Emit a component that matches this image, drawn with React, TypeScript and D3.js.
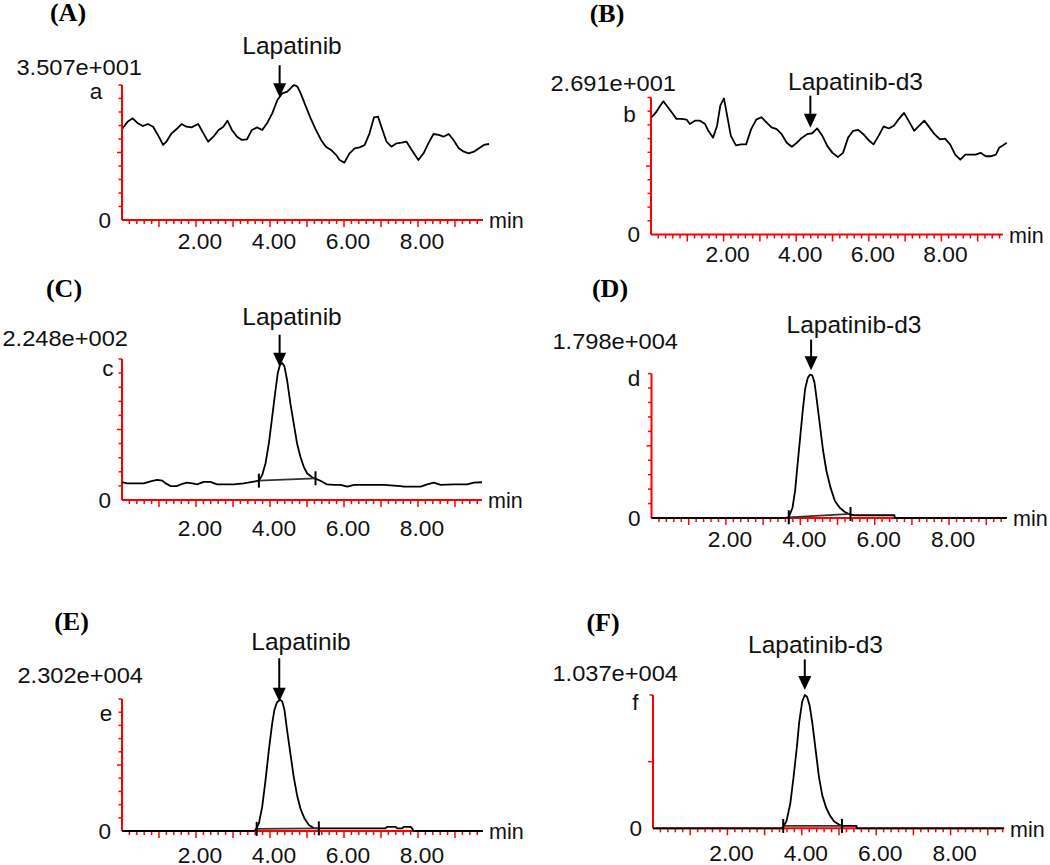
import React from "react";
import * as d3 from "d3";

// ---------- data (time in min, relative intensity in % of the panel maximum) ----------
const timeA = [0.02,0.15,0.29,0.43,0.56,0.70,0.84,0.97,1.11,1.20,1.34,1.47,1.61,1.74,1.88,2.06,2.20,2.33,2.47,2.61,2.74,2.85,2.97,3.11,3.24,3.38,3.51,3.65,3.79,3.92,4.06,4.20,4.33,4.47,4.58,4.65,4.74,4.83,4.97,5.10,5.24,5.38,5.51,5.65,5.79,5.88,6.01,6.15,6.29,6.42,6.56,6.69,6.81,6.92,7.01,7.15,7.28,7.42,7.56,7.69,7.83,8.01,8.15,8.28,8.42,8.56,8.69,8.83,8.96,9.10,9.24,9.37,9.51,9.65,9.78,9.92];
const intA = [67.9,72.8,75.3,71.6,69.6,71.1,69.1,63.0,55.6,58.0,64.2,67.2,71.1,69.1,68.6,71.1,64.2,58.0,61.7,66.7,69.1,73.6,66.7,61.7,59.3,59.8,66.7,68.6,66.7,71.6,79.0,88.9,93.8,95.1,98.3,100,98.8,93.8,84.0,75.3,66.7,59.3,54.3,51.9,48.1,44.4,42.5,49.4,53.1,53.8,55.6,64.2,76.0,76.5,69.1,58.0,54.3,56.8,57.3,58.0,51.9,44.4,49.4,56.8,63.7,63.0,61.7,63.7,59.3,53.1,50.6,49.4,50.6,53.1,55.6,56.3];

const timeB = [0.02,0.14,0.23,0.34,0.46,0.60,0.70,0.84,0.98,1.07,1.21,1.35,1.49,1.58,1.71,1.82,1.91,2.01,2.08,2.20,2.34,2.48,2.62,2.76,2.90,3.04,3.18,3.32,3.46,3.60,3.74,3.88,4.02,4.16,4.30,4.44,4.58,4.72,4.86,5.00,5.15,5.29,5.43,5.57,5.71,5.85,5.99,6.13,6.27,6.41,6.55,6.69,6.83,6.97,7.11,7.25,7.39,7.53,7.67,7.81,7.96,8.10,8.24,8.38,8.52,8.66,8.80,8.94,9.08,9.22,9.36,9.50,9.59,9.69,9.80];
const intB = [85.6,89.3,93.1,97.3,93.1,88.1,84.4,84.4,83.9,80.6,83.1,83.1,80.6,75.7,70.7,79.4,94.3,99.3,89.3,72.0,65.0,65.8,65.8,76.9,83.9,85.6,81.9,78.2,76.9,73.2,67.0,64.0,67.0,70.7,73.2,73.9,77.4,72.0,64.5,59.6,56.6,59.6,70.7,75.7,76.4,73.2,69.0,65.8,72.0,78.9,77.4,79.4,84.4,88.8,82.4,75.7,79.4,83.1,78.2,73.2,69.5,70.0,65.8,58.3,54.6,58.3,58.3,58.3,59.6,57.1,57.1,58.3,63.3,65.0,67.0];

const timeC = [0.00,0.14,0.32,0.59,0.82,0.95,1.09,1.18,1.31,1.49,1.63,1.76,1.90,2.03,2.21,2.39,2.57,2.75,3.02,3.29,3.56,3.70,3.79,3.88,3.97,4.06,4.15,4.21,4.27,4.33,4.39,4.46,4.55,4.64,4.73,4.82,4.91,5.00,5.14,5.27,5.41,5.54,5.73,5.91,6.09,6.27,6.63,7.08,7.53,7.62,8.07,8.25,8.43,8.61,8.97,9.33,9.51,9.73];
const intC = [12.6,11.8,11.8,11.8,13.5,14.2,13.7,11.8,9.9,9.9,11.4,12.3,11.8,11.1,12.8,12.8,11.1,11.1,11.1,11.8,13.0,13.7,17.8,26.1,40.3,59.2,78.2,90.0,95.9,97.2,94.8,85.3,68.7,54.5,40.3,30.8,23.7,19.0,16.1,14.7,13.0,11.1,10.7,10.7,9.5,10.7,10.7,10.7,9.9,9.5,9.5,11.1,12.3,10.7,11.1,11.1,12.3,12.6];

const timeD = [0,3.60,3.69,3.79,3.86,3.92,3.99,4.06,4.13,4.20,4.26,4.32,4.38,4.44,4.52,4.61,4.70,4.81,4.93,5.06,5.20,5.34,5.48,6.53,6.54,9.55];
const intD = [0,0,0.5,7.1,18.8,35.3,54.1,72.9,89.4,96.9,99.3,98.8,94.1,82.4,65.9,47.1,32.9,21.2,11.8,7.1,4.2,2.4,1.9,1.9,0,0];

const timeE = [0,3.55,3.61,3.70,3.79,3.88,3.97,4.06,4.12,4.19,4.27,4.33,4.39,4.46,4.55,4.64,4.73,4.82,4.93,5.05,5.18,5.32,6.94,7.12,7.17,7.39,7.44,7.57,7.62,7.80,7.84,7.88,9.75];
const intE = [0,0,0.8,5.8,18.5,38.7,61.5,81.8,91.9,97.5,99.5,98.2,91.9,76.7,58.9,41.2,27.3,17.2,9.6,4.6,2.2,2.0,2.0,2.0,3.2,3.2,2.0,2.0,3.2,3.2,2.0,0,0];

const timeF = [0,3.45,3.50,3.59,3.69,3.78,3.87,3.93,4.01,4.08,4.14,4.21,4.28,4.37,4.46,4.55,4.65,4.76,4.87,5.01,5.10,5.47,5.48,9.44];
const intF = [0,0,1.0,5.6,18.4,38.8,61.7,79.6,94.9,100,98.7,92.3,79.6,59.2,38.8,24.7,15.8,9.4,5.1,2.6,1.8,1.8,0,0];

// integration baselines: [startTime, startPct, endTime, endPct]
const integC = [3.70, 13.7, 5.23, 15.4];
const integD = [3.69, 0.5, 5.35, 2.8];
const integE = [3.64, 1.6, 5.32, 2.0];
const integF = [3.50, 1.8, 5.08, 1.8];

const tickValues = [2, 4, 6, 8];
const tickLabels = ["2.00", "4.00", "6.00", "8.00"];
const panelTitles = ["(A)", "(B)", "(C)", "(D)", "(E)", "(F)"];
const maxLabels = ["3.507e+001", "2.691e+001", "2.248e+002", "1.798e+004", "2.302e+004", "1.037e+004"];
const traceLetters = ["a", "b", "c", "d", "e", "f"];
const compounds = ["Lapatinib", "Lapatinib-d3", "Lapatinib", "Lapatinib-d3", "Lapatinib", "Lapatinib-d3"];
const arrowTimes = [4.26, 4.39, 4.26, 4.29, 4.25, 4.08];
const arrowTipPct = [91, 78, 94.5, 102.4, 98, 103.8];

// ---------- layout ----------
type Cfg = {
  x0: number; ppm: number; x1: number; yTop: number; yZero: number;
  title: [number, number]; maxLab: [number, number]; letter: [number, number];
  compound: [number, number]; arrowLen: number; tickLabelY: number; fullYTicks: boolean;
};

const layouts: Cfg[] = [
  { x0: 122, ppm: 37, x1: 483, yTop: 85, yZero: 220, title: [68, 14], maxLab: [142, 67], letter: [96, 93], compound: [292, 47], arrowLen: 32, tickLabelY: 241, fullYTicks: true },
  { x0: 651, ppm: 36.3, x1: 1003, yTop: 97.5, yZero: 234.5, title: [607, 15], maxLab: [676, 83], letter: [629.5, 114], compound: [855.5, 83], arrowLen: 32, tickLabelY: 254, fullYTicks: true },
  { x0: 122, ppm: 37, x1: 482, yTop: 359, yZero: 500, title: [64, 290], maxLab: [128, 338], letter: [108, 370], compound: [292, 318], arrowLen: 32, tickLabelY: 528, fullYTicks: true },
  { x0: 651.5, ppm: 37.2, x1: 1007, yTop: 373.6, yZero: 518, title: [610, 290], maxLab: [678, 341], letter: [634, 378], compound: [854, 326], arrowLen: 30.5, tickLabelY: 539, fullYTicks: true },
  { x0: 122, ppm: 37, x1: 483, yTop: 699, yZero: 831, title: [71.5, 623], maxLab: [143, 675], letter: [106, 715], compound: [301, 643], arrowLen: 43.4, tickLabelY: 855, fullYTicks: true },
  { x0: 653, ppm: 37.2, x1: 1004, yTop: 695, yZero: 828.3, title: [603, 624], maxLab: [678, 673], letter: [635.5, 702], compound: [815.5, 646], arrowLen: 30.5, tickLabelY: 853, fullYTicks: false },
];

const series = [
  { t: timeA, v: intA, integ: null as number[] | null },
  { t: timeB, v: intB, integ: null as number[] | null },
  { t: timeC, v: intC, integ: integC },
  { t: timeD, v: intD, integ: integD },
  { t: timeE, v: intE, integ: integE },
  { t: timeF, v: intF, integ: integF },
];

const SANS = "'Liberation Sans', Arial, Helvetica, sans-serif";
const SERIF = "'Liberation Serif', 'Times New Roman', serif";
const RED = "#ff0000";
const NUM_FS = 21.5;
const CMP_FS = 24.5;
const TITLE_FS = 26;

function SText({ x, y, sx, anchor, fs, children }: { x: number; y: number; sx: number; anchor: string; fs: number; children: React.ReactNode }) {
  return (
    <text transform={`translate(${x},${y}) scale(${sx},1)`} fontFamily={SANS} fontSize={fs} textAnchor={anchor} fill="#111">
      {children}
    </text>
  );
}

function Panel({ i }: { i: number }) {
  const c = layouts[i];
  const s = series[i];
  const tEnd = (c.x1 - c.x0) / c.ppm;
  const x = d3.scaleLinear().domain([0, tEnd]).range([c.x0, c.x1]);
  const y = d3.scaleLinear().domain([0, 100]).range([c.yZero, c.yTop]);
  const pts = s.t.map((t, k) => [t, s.v[k]] as [number, number]);
  const path = d3.line<[number, number]>().x((d) => x(d[0])).y((d) => y(d[1]))(pts) || "";

  const xTicks = d3.range(1, Math.floor(tEnd * 5) + 1).map((k) => k / 5);
  const yTicks = d3.range(1, 11).map((k) => k * 10).filter((v) => c.fullYTicks || v === 50 || v === 100);

  const ax = x(arrowTimes[i]);
  const tipY = y(arrowTipPct[i]);
  const headH = 14;
  const headW = 6.5;

  let integ: React.ReactNode = null;
  if (s.integ) {
    const [t0, p0, t1, p1] = s.integ;
    const xa = x(t0), ya = y(p0), xb = x(t1), yb = y(p1);
    integ = (
      <g fill="none">
        <line x1={xa} y1={ya} x2={xb} y2={yb} stroke="#333" strokeWidth={1.7} />
        <line x1={xa} y1={ya - 7} x2={xa} y2={ya + 7} strokeWidth={2} stroke="#000" />
        <line x1={xb} y1={yb - 7} x2={xb} y2={yb + 7} strokeWidth={2} stroke="#000" />
      </g>
    );
  }

  return (
    <g>
      {/* title */}
      <text x={c.title[0]} y={c.title[1] + TITLE_FS * 0.25} fontFamily={SERIF} fontWeight="bold" fontSize={TITLE_FS} textAnchor="middle" fill="#000">
        {panelTitles[i]}
      </text>
      {/* max intensity label */}
      <SText x={c.maxLab[0]} y={c.maxLab[1] + NUM_FS * 0.36} sx={1.1} anchor="end" fs={NUM_FS}>
        {maxLabels[i]}
      </SText>
      {/* trace letter */}
      <SText x={c.letter[0]} y={c.letter[1] + NUM_FS * (["a", "c", "e"].includes(traceLetters[i]) ? 0.27 : 0.36)} sx={1.05} anchor="middle" fs={NUM_FS}>
        {traceLetters[i]}
      </SText>
      {/* zero label */}
      <SText x={c.x0 - 11} y={c.yZero + NUM_FS * 0.36} sx={1.05} anchor="end" fs={NUM_FS}>
        0
      </SText>
      {/* axes */}
      <g stroke={RED} fill="none">
        <line x1={c.x0} y1={c.yTop} x2={c.x0} y2={c.yZero} strokeWidth={2} />
        <line x1={c.x0} y1={c.yZero} x2={c.x1} y2={c.yZero} strokeWidth={2} />
        {yTicks.map((v) => (
          <line key={"y" + v} x1={c.x0} x2={c.x0 - (v === 50 ? 5 : 3.5)} y1={y(v)} y2={y(v)} strokeWidth={1.5} />
        ))}
        {xTicks.map((t) => {
          const major = Math.round(t * 5) % 5 === 0;
          return <line key={"x" + t} x1={x(t)} x2={x(t)} y1={c.yZero} y2={c.yZero + (major ? 7 : 4)} strokeWidth={1.5} />;
        })}
      </g>
      {/* x tick labels */}
      {tickValues.map((t, k) => (
        <SText key={"tl" + k} x={x(t) + 4} y={c.tickLabelY + NUM_FS * 0.36} sx={1.06} anchor="middle" fs={NUM_FS}>
          {tickLabels[k]}
        </SText>
      ))}
      <text x={c.x1 + 6} y={c.yZero + 2 + NUM_FS * 0.3} fontFamily={SANS} fontSize={NUM_FS} fill="#111">
        min
      </text>
      {/* trace */}
      <path d={path} fill="none" stroke="#000" strokeWidth={1.8} strokeLinejoin="round" />
      {integ}
      {/* compound annotation */}
      <text x={c.compound[0]} y={c.compound[1] + CMP_FS * 0.27} fontFamily={SANS} fontSize={CMP_FS} textAnchor="middle" fill="#111">
        {compounds[i]}
      </text>
      <line x1={ax} x2={ax} y1={tipY - c.arrowLen} y2={tipY - headH + 2} stroke="#000" strokeWidth={2} />
      <path d={`M${ax - headW},${tipY - headH} L${ax + headW},${tipY - headH} L${ax},${tipY} Z`} fill="#000" />
    </g>
  );
}

export default function App() {
  return (
    <svg width={1050} height={865} viewBox="0 0 1050 865" style={{ position: "absolute", left: 0, top: 0, background: "#fff" }}>
      <rect x={0} y={0} width={1050} height={865} fill="#fff" />
      {layouts.map((_, i) => (
        <Panel key={i} i={i} />
      ))}
    </svg>
  );
}
